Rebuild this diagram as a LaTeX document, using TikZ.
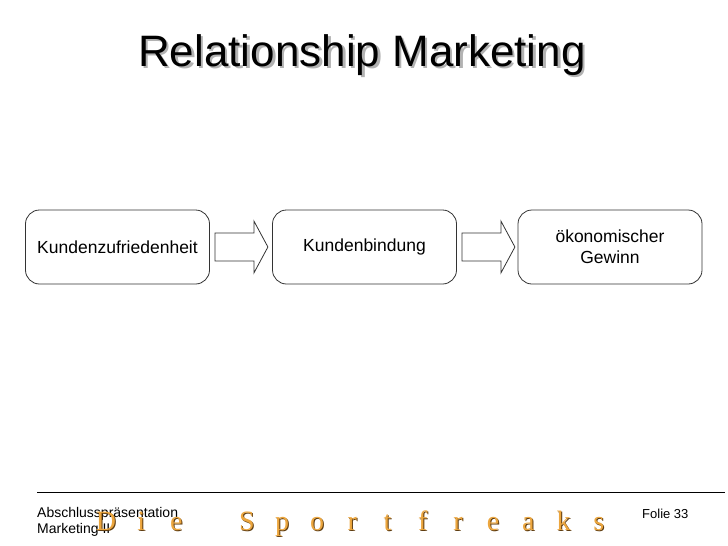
\documentclass[tikz,border=0pt]{standalone}
\usepackage{fontspec}
\setmainfont{Liberation Sans}
\newfontfamily\logofont{Liberation Serif}
\usetikzlibrary{calc}
\definecolor{logogold}{RGB}{236,166,62}
\definecolor{logoedge}{RGB}{95,60,15}

\begin{document}
\begin{tikzpicture}[x=1pt, y=-1pt,
    stage/.style={draw=black!80, line width=0.8pt, rounded corners=14pt, align=center, minimum width=184pt, minimum height=74pt, inner sep=2pt, font=\fontsize{17.5}{21}\selectfont},
    flowarrow/.style={draw=black!80, line width=0.8pt, fill=white},
    heading/.style={font=\fontsize{44}{50}\selectfont},
    footnote/.style={font=\fontsize{14}{15.5}\selectfont, align=left, inner sep=0pt},
    logo/.style={font=\logofont\fontsize{28}{28}\selectfont, inner sep=0pt, anchor=base}
]
    \useasboundingbox (0,0) rectangle (728,546);

    % title with shadow
    \node[heading, text=black!30] (titleshadow) at (364.5,57.5) {Relationship Marketing};
    \node[heading] (title) at (362,55) {Relationship Marketing};

    \node[stage] (zufrieden) at (117.5,247) {Kundenzufriedenheit};
    \node[stage] (bindung) at (364.5,247) {Kundenbindung};
    \node[stage] (gewinn) at (610,247) {ökonomischer\\Gewinn};

    % block arrows between the stages
    \foreach \a in {zufrieden,bindung}
        \draw[flowarrow] ($(\a.east)+(5,-14)$) -- ++(39,0) -- ++(0,-12) -- ++(14,26)
            -- ++(-14,26) -- ++(0,-12) -- ++(-39,0) -- cycle;

    % footer
    \draw[line width=0.8pt] (37,492) -- (725,492);
    \node[footnote, anchor=west] (kurs) at (37,522) {Abschlusspräsentation\\Marketing II};
    \node[footnote, anchor=west, font=\fontsize{13}{16}\selectfont] (folie) at (642,514) {Folie 33};
    \foreach \i/\ch in {0/D,1/i,2/e,4/S,5/p,6/o,7/r,8/t,9/f,10/r,11/e,12/a,13/k,14/s} {
        \node[logo, text=logoedge] (logoshadow\i) at (107+35.2*\i,531) {\ch};
        \node[logo, text=logogold] (logo\i) at (106+35.2*\i,530) {\ch};
    }
\end{tikzpicture}
\end{document}
